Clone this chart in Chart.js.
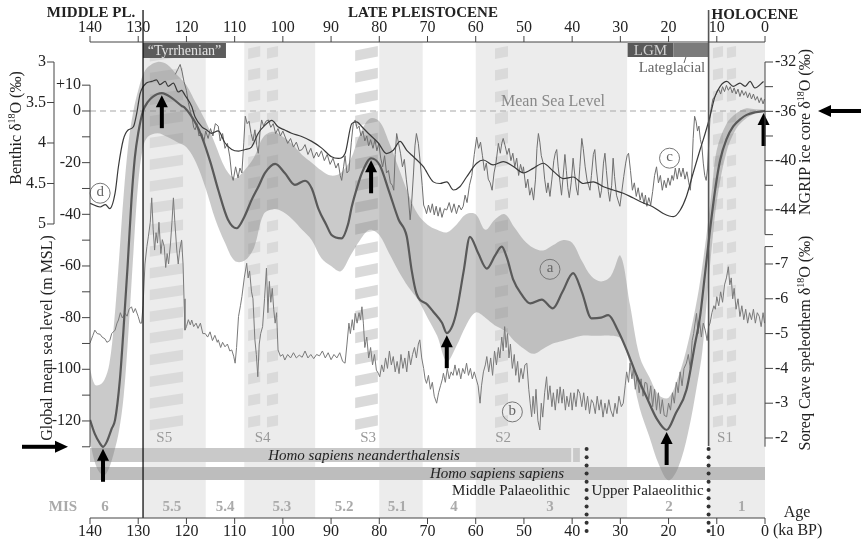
<!DOCTYPE html>
<html><head><meta charset="utf-8">
<script src="https://cdn.jsdelivr.net/npm/chart.js@4.4.0/dist/chart.umd.min.js"></script>
<style>html,body{margin:0;padding:0;background:#fff}canvas{display:block}</style>
</head><body>
<canvas id="c" width="861" height="541"></canvas>
<script>
// ---------------- DATA ----------------
const ageTicks = [140,130,120,110,100,90,80,70,60,50,40,30,20,10,0];
const seaTicksLabelled = [10,0,-20,-40,-60,-80,-100,-120];
const seaTicksMinor = [10,0,-10,-20,-30,-40,-50,-60,-70,-80,-90,-100,-110,-120,-130];
const benthicTicks = [3,3.5,4,4.5,5];
const ngripTicksLabelled = [-32,-36,-40,-44];
const ngripTicksMinor = [-32,-34,-36,-38,-40,-42,-44,-46];
const soreqTicks = [-7,-6,-5,-4,-3,-2];

// sea level uncertainty band: [age, upper, lower]
const seaBand = [[140,-100,-128],[139,-106,-136],[138,-106,-140],[137,-104,-141],[136,-98,-138],[135,-82,-132],[134,-58,-124],[133,-32,-110],[132,-12,-85],[131,0,-55],[130,8,-28],[129,14,-14],[128,17,-10],[126,19,-8.6],[124,18,-10],[122,14,-12],[120,10,-14],[118,3,-20],[116,-4,-30],[114,-13,-42],[112,-22,-51],[110,-26,-58],[108,-23,-58],[106,-18,-53],[104,-10,-40],[102,-8,-38],[100,-10,-39],[98,-13,-42],[96,-17,-46],[94,-20,-50],[92,-23,-57],[90,-25,-60],[88,-24,-62],[86,-19,-56],[84,-9,-50],[82,-3,-46],[80,-4,-48],[78,-12,-55],[76,-22,-62],[74,-32,-68],[72,-40,-73],[70,-44,-80],[68,-46,-87],[66,-47,-97],[64,-44,-91],[62,-40,-83],[60,-40,-78],[58,-46,-80],[56,-42,-83],[54,-40,-85],[52,-45,-89],[50,-50,-92],[48,-53,-94],[46,-54,-92],[44,-52,-90],[42,-50,-89],[40,-51,-88],[38,-58,-87],[36,-64,-87],[34,-66,-87],[32,-64,-87],[30,-56,-88],[28,-75,-98],[26,-95,-115],[24,-103,-126],[22,-110,-137],[20,-111,-143],[18,-103,-138],[16,-90,-125],[14,-72,-105],[13,-60,-93],[12,-46,-72],[11,-30,-52],[10,-15,-35],[8,-5,-16],[6,-1,-7],[4,1,-3],[2,0.7,-1],[0,0.5,-0.3]];

// (a) global mean sea level: [age ka, m MSL]
const seaLevel = [[140,-119.6],[139,-125],[138,-128.5],[137.3,-130],[136.5,-128],[135.5,-123],[134.8,-119.6],[133.8,-104],[133.1,-86],[132.2,-60],[131.4,-34.5],[130.7,-18],[130,-8.6],[129,0],[128,3.5],[127,5.5],[125.1,6.9],[123,5],[121,2],[120.3,1.2],[118,-5],[116.8,-10],[115,-20],[113.4,-30.6],[111.4,-42],[109.6,-45.4],[108,-41],[106.5,-34.5],[105,-29],[103.7,-24],[101.6,-20.5],[99.6,-24],[97.5,-28.6],[95.4,-27],[94,-30],[92.6,-38],[91,-44],[89.9,-48],[87.8,-49.3],[86.5,-44],[85.7,-37],[84.5,-29],[83.6,-24],[81.7,-18.3],[79.9,-21],[78,-31],[76,-42],[74.3,-48.6],[73.3,-61.5],[72.3,-70.6],[70,-75],[68.8,-77.7],[67,-82],[66,-86],[64.8,-83],[63.9,-77],[62.5,-62],[61.2,-48.7],[59.5,-55],[57.7,-61],[56,-56],[54.6,-52.5],[53.5,-57],[52.2,-65.4],[50.5,-71],[48.7,-74.5],[46.3,-73],[44,-76.4],[42,-70],[39.8,-62.8],[38,-70],[36,-80.3],[34,-80],[32.5,-79],[30.5,-85],[28.7,-92.5],[26.5,-103],[24.6,-110.6],[22.5,-119],[20.4,-123.5],[18.5,-117],[16.3,-108],[14.5,-90],[13.5,-80],[12.5,-64],[11.4,-46],[10.3,-30],[9.3,-19],[8,-11],[6.6,-6],[5,-3],[3.8,-1.5],[2,-0.5],[0,0]];

// (d) benthic d18O
const benthic = [[140,4.745],[137.9,4.79],[136.8,4.76],[135.9,4.81],[134.8,4.62],[134.1,4.29],[133.1,3.96],[132.1,3.84],[131,3.80],[130.3,3.63],[129.6,3.39],[128.3,3.26],[127.2,3.24],[126.2,3.22],[125.5,3.28],[124.4,3.24],[123.8,3.30],[122.7,3.26],[121.7,3.37],[121,3.35],[120.3,3.41],[118.9,3.55],[118.2,3.68],[116.8,3.80],[115.8,3.84],[114.8,3.88],[113.4,3.85],[112,4.0],[110.6,4.08],[109.2,4.1],[107.8,4.08],[106.5,4.05],[105.1,3.88],[103.7,3.78],[102.3,3.72],[101,3.8],[99.6,3.84],[98.2,3.88],[96.1,3.92],[94,3.98],[92,4.06],[89.9,4.17],[88.5,4.19],[87.1,4.13],[85.7,3.76],[84.7,3.74],[83.6,3.80],[82.3,3.88],[80.2,4.0],[78.5,4.13],[77.1,4.09],[75.7,3.98],[74.3,4.09],[72.9,4.17],[70.9,4.29],[68.8,4.48],[67.4,4.50],[66,4.48],[64.6,4.58],[63.3,4.54],[61.9,4.42],[59.8,4.25],[58.4,4.21],[56.4,4.27],[54.3,4.23],[52.2,4.29],[50.1,4.37],[48,4.31],[46,4.25],[43.9,4.35],[41.8,4.44],[39.8,4.42],[37.7,4.50],[35.6,4.48],[33.5,4.54],[31.5,4.58],[29.4,4.62],[27.3,4.68],[25.2,4.74],[23.2,4.79],[21.1,4.87],[19,4.91],[17.6,4.83],[16.3,4.66],[14.9,4.37],[13.5,4.09],[12.4,3.88],[11.4,3.67],[10.4,3.43],[9.3,3.30],[7.9,3.24],[6.6,3.30],[5.2,3.26],[4.1,3.30],[3.1,3.24],[2.1,3.32],[0.3,3.24]];

// (c) NGRIP ice core d18O
const ngrip = [[122.3,-33.0],[121.8,-32.6],[121.3,-32.2],[120.9,-32.8],[120.5,-33.6],[120.0,-34.3],[119.6,-35.3],[119.2,-36.0],[118.9,-36.4],[118.5,-37.3],[118.2,-37.5],[117.8,-37.0],[117.4,-38.0],[116.8,-37.8],[116.4,-38.5],[116.0,-37.6],[115.5,-38.2],[115.0,-37.4],[114.5,-38.0],[114.0,-37.0],[113.4,-37.2],[113.0,-38.4],[112.5,-37.8],[112.0,-39.0],[111.5,-38.6],[111.0,-39.7],[110.6,-41.2],[110.3,-41.6],[109.8,-40.5],[109.3,-41.4],[108.9,-40.6],[108.5,-41.0],[108.1,-38.5],[107.8,-36.4],[107.4,-37.0],[107.0,-36.8],[106.6,-37.8],[106.2,-38.4],[105.8,-37.5],[105.4,-38.8],[105.1,-39.4],[104.7,-37.5],[104.4,-36.7],[104.0,-37.2],[103.5,-36.8],[103.0,-36.7],[102.5,-37.3],[102.0,-37.0],[101.5,-37.8],[101.0,-37.4],[100.5,-38.0],[100.0,-37.6],[99.6,-38.0],[99.0,-38.6],[98.4,-38.2],[97.8,-38.9],[97.2,-38.5],[96.6,-39.2],[96.0,-39.1],[95.4,-38.7],[94.8,-39.5],[94.2,-39.0],[93.6,-39.8],[93.0,-39.3],[92.6,-39.7],[92.0,-39.2],[91.4,-40.0],[90.8,-39.5],[90.2,-40.3],[89.6,-39.8],[89.0,-40.6],[88.5,-40.2],[88.1,-41.2],[87.8,-41.6],[87.4,-40.5],[87.1,-39.6],[86.7,-41.0],[86.3,-40.8],[85.8,-38.5],[85.4,-37.0],[85.0,-36.7],[84.6,-37.4],[84.2,-37.2],[83.8,-38.0],[83.4,-37.6],[83.0,-38.4],[82.6,-38.0],[82.2,-38.8],[81.8,-38.3],[81.3,-39.0],[80.9,-38.3],[80.5,-39.2],[80.1,-38.6],[79.7,-39.8],[79.3,-40.5],[78.9,-39.6],[78.5,-41.0],[78.1,-40.8],[77.7,-41.8],[77.3,-42.0],[77.0,-42.4],[76.7,-39.5],[76.4,-37.8],[76.0,-38.6],[75.6,-39.4],[75.2,-40.5],[74.8,-39.9],[74.4,-41.5],[74.0,-42.8],[73.6,-44.8],[73.3,-43.5],[72.9,-41.0],[72.6,-38.8],[72.3,-37.8],[71.9,-38.6],[71.5,-40.2],[71.1,-42.0],[70.8,-43.6],[70.4,-44.0],[70.2,-44.3],[69.8,-43.6],[69.4,-44.2],[69.0,-43.5],[68.6,-44.4],[68.2,-43.7],[67.8,-44.5],[67.4,-43.8],[67.0,-44.6],[66.5,-43.9],[66.0,-44.0],[65.5,-43.4],[65.0,-44.2],[64.5,-43.5],[64.0,-44.3],[63.5,-43.6],[63.0,-44.0],[62.6,-43.7],[62.2,-42.8],[61.8,-43.4],[61.3,-42.0],[60.8,-41.2],[60.3,-39.5],[59.8,-38.1],[59.4,-39.0],[59.0,-38.5],[58.6,-39.6],[58.2,-40.8],[57.8,-40.2],[57.4,-41.5],[57.0,-41.8],[56.6,-42.4],[56.2,-41.0],[55.8,-40.2],[55.3,-38.6],[54.9,-39.4],[54.6,-38.6],[54.3,-38.2],[53.9,-38.8],[53.5,-39.5],[53.1,-39.0],[52.7,-40.0],[52.3,-39.4],[51.9,-40.5],[51.5,-39.8],[51.1,-41.2],[50.7,-40.3],[50.3,-41.0],[50.1,-40.5],[49.6,-42.2],[49.2,-41.5],[48.8,-42.8],[48.4,-42.2],[48.0,-43.2],[47.6,-41.5],[47.3,-39.0],[47.0,-37.8],[46.7,-38.5],[46.4,-39.6],[46.0,-40.2],[45.7,-41.5],[45.3,-42.6],[45.0,-41.8],[44.6,-42.9],[44.2,-41.5],[43.8,-40.0],[43.5,-39.4],[43.2,-39.1],[42.9,-40.5],[42.5,-41.8],[42.2,-42.8],[41.9,-41.4],[41.5,-39.5],[41.2,-40.8],[40.9,-42.2],[40.6,-43.0],[40.2,-41.8],[39.8,-39.8],[39.5,-41.0],[39.1,-42.3],[38.8,-42.8],[38.4,-40.5],[38.0,-38.2],[37.7,-39.0],[37.3,-40.5],[36.9,-41.6],[36.6,-42.0],[36.3,-42.4],[36.0,-41.2],[35.6,-39.5],[35.3,-39.1],[35.0,-40.6],[34.6,-42.0],[34.2,-43.0],[33.9,-42.4],[33.5,-40.2],[33.2,-39.4],[32.9,-40.8],[32.5,-42.5],[32.2,-43.3],[31.8,-42.0],[31.5,-39.8],[31.2,-41.3],[30.8,-42.8],[30.5,-43.2],[30.1,-43.7],[29.7,-42.5],[29.3,-41.3],[28.9,-40.2],[28.6,-39.6],[28.3,-39.4],[27.9,-40.8],[27.5,-42.4],[27.1,-41.8],[26.7,-42.9],[26.3,-42.2],[25.9,-43.2],[25.5,-42.6],[25.1,-43.5],[24.8,-42.8],[24.5,-43.7],[24.1,-43.0],[23.7,-43.6],[23.3,-42.5],[22.9,-41.2],[22.5,-40.5],[22.1,-41.8],[21.7,-41.2],[21.3,-42.4],[20.9,-41.6],[20.5,-42.2],[20.1,-41.4],[19.7,-42.0],[19.3,-41.2],[19.0,-41.6],[18.6,-40.6],[18.2,-41.5],[17.8,-40.6],[17.4,-41.3],[17.0,-40.6],[16.6,-41.5],[16.2,-40.9],[15.8,-41.8],[15.5,-42.4],[15.2,-41.0],[14.9,-38.2],[14.6,-36.4],[14.3,-36.8],[14.0,-37.6],[13.7,-37.2],[13.4,-38.3],[13.1,-38.8],[12.8,-40.2],[12.5,-41.2],[12.2,-41.6],[11.9,-40.6],[11.6,-38.0],[11.4,-36.4],[11.1,-35.6],[10.8,-35.0],[10.4,-34.8],[10.0,-34.5],[9.6,-34.2],[9.2,-34.6],[8.8,-34.0],[8.4,-34.4],[8.0,-33.9],[7.6,-34.3],[7.2,-34.0],[6.8,-34.5],[6.4,-34.1],[6.0,-34.6],[5.6,-34.2],[5.2,-34.8],[4.8,-34.3],[4.4,-34.7],[4.0,-34.4],[3.6,-34.9],[3.2,-34.5],[2.8,-35.0],[2.4,-34.6],[2.0,-35.1],[1.6,-34.8],[1.2,-35.3],[0.8,-34.9],[0.4,-35.4],[0.1,-35.0]];

// (b) Soreq Cave speleothem d18O
const soreq = [[140,-4.73],[139.4,-4.95],[139,-5.1],[138.5,-5.0],[137.9,-4.98],[137.5,-4.9],[136.9,-4.85],[136.5,-4.75],[135.9,-4.8],[135.5,-5.0],[134.8,-5.1],[134.4,-5.3],[134.1,-5.39],[133.7,-5.6],[133.3,-5.45],[132.7,-5.58],[132.3,-5.5],[131.9,-5.7],[131.4,-5.77],[131.0,-5.6],[130.6,-5.72],[130.0,-5.49],[129.6,-5.3],[129.3,-5.3],[129.0,-5.8],[128.6,-7.0],[128.2,-7.5],[127.9,-7.78],[127.5,-8.2],[127.2,-8.9],[126.9,-8.0],[126.6,-7.4],[126.3,-7.9],[126.0,-7.6],[125.7,-8.2],[125.3,-7.3],[125.0,-7.7],[124.6,-7.5],[124.3,-6.9],[124.0,-7.3],[123.7,-7.0],[123.3,-7.6],[123.0,-8.2],[122.7,-8.9],[122.4,-8.2],[122.0,-7.4],[121.7,-7.0],[121.4,-7.4],[121.0,-7.69],[120.7,-7.0],[120.5,-6.0],[120.3,-5.1],[120.0,-5.2],[119.6,-5.4],[119.2,-5.25],[118.9,-5.39],[118.5,-5.2],[118.0,-5.3],[117.6,-5.15],[117.1,-5.3],[116.6,-5.0],[116.1,-5.0],[115.6,-4.9],[115.1,-5.05],[114.6,-4.8],[114.1,-4.95],[113.6,-4.75],[113.4,-4.82],[112.9,-4.6],[112.5,-4.75],[112.0,-4.62],[111.5,-4.7],[111.0,-4.5],[110.6,-4.53],[110.2,-4.35],[109.9,-4.15],[109.6,-4.6],[109.2,-5.49],[108.8,-5.8],[108.5,-6.06],[108.0,-6.6],[107.5,-7.02],[107.2,-6.6],[106.9,-6.8],[106.5,-6.2],[106.2,-6.0],[105.8,-4.82],[105.5,-4.4],[105.2,-3.76],[104.9,-4.7],[104.6,-5.0],[104.2,-5.2],[103.8,-6.0],[103.4,-6.88],[103.1,-5.6],[102.8,-6.5],[102.5,-5.9],[102.2,-6.3],[101.9,-5.7],[101.6,-5.3],[101.3,-5.6],[101.0,-4.53],[100.5,-4.35],[100.0,-4.4],[99.6,-4.24],[99.0,-4.4],[98.4,-4.3],[97.8,-4.45],[97.2,-4.3],[96.6,-4.38],[96.0,-4.32],[95.4,-4.5],[94.8,-4.3],[94.2,-4.4],[93.6,-4.28],[93.0,-4.4],[92.4,-4.36],[91.8,-4.5],[91.2,-4.3],[90.6,-4.45],[90.0,-4.25],[89.4,-4.4],[88.8,-4.3],[88.2,-4.45],[87.6,-4.2],[87.1,-4.15],[86.7,-4.7],[86.3,-5.3],[86.0,-5.0],[85.6,-5.4],[85.3,-5.1],[85.0,-5.58],[84.6,-5.3],[84.2,-5.6],[83.9,-5.4],[83.6,-5.77],[83.3,-5.3],[83.0,-4.6],[82.6,-4.9],[82.2,-4.3],[81.8,-4.6],[81.4,-4.1],[81.0,-4.4],[80.6,-3.95],[80.2,-3.86],[79.9,-3.76],[79.5,-4.1],[79.1,-3.9],[78.7,-4.3],[78.3,-4.0],[77.9,-4.5],[77.5,-4.1],[77.1,-4.34],[76.7,-3.9],[76.3,-4.2],[75.9,-3.85],[75.5,-4.4],[75.1,-4.0],[74.7,-4.3],[74.3,-3.9],[73.9,-4.5],[73.5,-4.1],[73.1,-4.4],[72.7,-4.6],[72.3,-4.3],[71.9,-4.7],[71.6,-4.82],[71.2,-4.3],[70.8,-4.0],[70.5,-3.7],[70.2,-3.57],[69.8,-3.8],[69.4,-3.4],[69.0,-3.6],[68.6,-3.2],[68.1,-3.0],[67.7,-3.3],[67.3,-3.5],[66.9,-3.7],[66.7,-3.86],[66.3,-3.6],[65.9,-4.0],[65.5,-3.7],[65.1,-3.9],[64.7,-3.8],[64.3,-4.1],[63.9,-3.8],[63.5,-4.0],[63.1,-3.7],[62.7,-4.0],[62.3,-3.85],[61.9,-4.15],[61.5,-3.8],[61.1,-4.0],[60.7,-3.7],[60.3,-3.9],[59.9,-3.7],[59.5,-3.5],[59.1,-3.0],[58.8,-3.5],[58.4,-3.9],[58.0,-4.1],[57.7,-4.34],[57.3,-3.9],[56.9,-4.3],[56.5,-3.8],[56.1,-4.5],[55.7,-4.1],[55.3,-4.6],[55.0,-4.3],[54.6,-4.9],[54.3,-4.5],[54.0,-5.2],[53.7,-4.6],[53.4,-5.0],[53.1,-4.3],[52.8,-4.7],[52.4,-4.0],[52.0,-4.4],[51.7,-3.8],[51.3,-4.2],[51.0,-3.6],[50.6,-4.0],[50.2,-3.7],[49.8,-4.1],[49.4,-4.15],[49.0,-3.4],[48.7,-3.0],[48.4,-2.61],[48.1,-3.2],[47.8,-2.7],[47.5,-3.4],[47.1,-2.5],[46.7,-2.23],[46.4,-3.0],[46.1,-2.6],[45.7,-3.3],[45.3,-3.76],[45.0,-3.1],[44.6,-3.5],[44.2,-2.9],[43.9,-3.3],[43.5,-2.8],[43.1,-3.4],[42.8,-3.0],[42.5,-3.47],[42.1,-3.0],[41.8,-3.4],[41.4,-2.8],[41.1,-3.2],[40.7,-2.9],[40.3,-3.3],[40.0,-2.8],[39.6,-3.3],[39.2,-2.9],[38.8,-3.4],[38.4,-3.28],[38.0,-2.9],[37.6,-3.3],[37.2,-2.8],[36.8,-3.2],[36.4,-2.7],[36.0,-3.1],[35.6,-3.0],[35.2,-2.7],[34.8,-3.2],[34.4,-2.8],[34.0,-3.1],[33.6,-2.6],[33.2,-3.0],[32.8,-2.7],[32.4,-3.1],[32.0,-2.8],[31.5,-2.61],[31.1,-3.0],[30.7,-2.7],[30.3,-3.2],[29.8,-2.9],[29.4,-3.0],[29.0,-3.5],[28.7,-3.9],[28.3,-3.6],[28.0,-4.15],[27.6,-3.7],[27.3,-4.0],[26.9,-3.4],[26.5,-3.8],[26.1,-3.3],[25.7,-3.7],[25.3,-3.2],[24.9,-3.6],[24.5,-3.57],[24.1,-3.1],[23.7,-3.5],[23.3,-2.9],[22.9,-3.4],[22.5,-2.8],[22.1,-3.3],[21.7,-2.7],[21.3,-3.1],[20.9,-2.65],[20.4,-2.61],[20.0,-3.0],[19.6,-2.8],[19.2,-3.3],[18.8,-3.0],[18.4,-3.6],[18.0,-3.3],[17.6,-3.9],[17.2,-3.5],[16.8,-4.0],[16.3,-4.15],[15.9,-4.4],[15.5,-4.0],[15.1,-4.8],[14.8,-5.0],[14.5,-5.3],[14.2,-5.58],[13.9,-5.0],[13.6,-5.4],[13.2,-4.9],[12.8,-5.3],[12.4,-5.1],[12.0,-4.8],[11.7,-5.2],[11.4,-5.3],[11.0,-5.6],[10.6,-5.8],[10.3,-5.7],[10.0,-6.06],[9.6,-5.8],[9.2,-6.2],[8.8,-5.9],[8.4,-6.4],[8.0,-6.6],[7.6,-6.92],[7.3,-6.4],[7.0,-6.6],[6.7,-6.0],[6.4,-6.3],[6.0,-5.7],[5.6,-6.0],[5.2,-5.49],[4.8,-5.8],[4.4,-5.4],[4.0,-5.7],[3.6,-5.3],[3.2,-5.6],[2.8,-5.4],[2.4,-5.7],[2.0,-5.3],[1.6,-5.6],[1.2,-5.5],[0.8,-5.2],[0.4,-5.6],[0.1,-5.3]];

// Marine isotope stage bands (warm stages shaded) and labels
const misBands = [[129,116],[108,93.3],[80,71],[60,28.6],[11.7,0]];
const misNames = ['6','5.5','5.4','5.3','5.2','5.1','4','3','2','1'];
const misLabelAges = [136.9,123,112,100.2,87.3,76.3,64.5,44.6,19.9,4.8];
// sapropel intervals
const sapropels = [[127.6,120.7],[107.2,104.7],[103.3,101.0],[85,80.3],[56,53.3],[10.8,8.7],[7.9,6.0]];
const sapropelNames = ['S5','S4','S3','S2','S1'];
const sapropelLabelAges = [124.6,104.2,82.3,54.3,8.3];
// arrows to key sea levels
const arrowAges = [137.3,125.1,81.7,66,20.4,0.3];
const arrowLevels = [-130,6.9,-18.3,-86,-123.5,0];
// period boundaries / boxes
const middleLateBoundary = 129;
const holoceneBoundary = 11.7;
const upperPalaeoBoundary = 37;
const tyrrhenian = [129,111.8];
const lgm = [28.5,19];
const lateglacial = [19,11.7];
const neanderthalensis = [[140,40.2],[39.8,38.4]];
const sapiens = [140,0];

// ---------------- CHART ----------------
const F = '"Liberation Serif","DejaVu Serif","Times New Roman",serif';
const fnt = (s,w='normal',st='normal') => `${st} ${w} ${s}px ${F}`;
const P = arr => arr.map(p => ({x:p[0], y:p[1]}));

function text(ctx, s, x, y, o={}) {
  ctx.save();
  ctx.font = fnt(o.size||15, o.weight||'normal', o.style||'normal');
  ctx.fillStyle = o.color||'#222';
  ctx.textAlign = o.align||'center';
  ctx.textBaseline = o.base||'middle';
  ctx.fillText(s, x, y);
  ctx.restore();
}
function rich(ctx, parts, x, y, color) {
  ctx.save(); ctx.fillStyle = color||'#222'; ctx.textBaseline='alphabetic'; ctx.textAlign='left';
  let w = 0;
  parts.forEach(p => { ctx.font = fnt(p[1]); w += ctx.measureText(p[0]).width; });
  let cx = x - w/2;
  parts.forEach(p => { ctx.font = fnt(p[1]); ctx.fillText(p[0], cx, y + (p[2]||0)); cx += ctx.measureText(p[0]).width; });
  ctx.restore();
}
function rotTitle(ctx, parts, x, y) {
  ctx.save(); ctx.translate(x, y); ctx.rotate(-Math.PI/2); rich(ctx, parts, 0, 5, '#222'); ctx.restore();
}
function arrowUp(ctx, x, tip, len) {
  ctx.save(); ctx.fillStyle='#000';
  ctx.fillRect(x-2, tip+10, 4, len-10);
  ctx.beginPath(); ctx.moveTo(x, tip); ctx.lineTo(x-6, tip+12); ctx.lineTo(x+6, tip+12); ctx.closePath(); ctx.fill();
  ctx.restore();
}
function arrowH(ctx, tail, tip, y) {
  const d = Math.sign(tip - tail);
  ctx.save(); ctx.fillStyle='#000';
  ctx.fillRect(Math.min(tail, tip - d*12), y-2, Math.abs(tip - d*12 - tail), 4);
  ctx.beginPath(); ctx.moveTo(tip, y); ctx.lineTo(tip - d*13, y-6); ctx.lineTo(tip - d*13, y+6); ctx.closePath(); ctx.fill();
  ctx.restore();
}

const decor = {
  id: 'decor',
  beforeDraw(chart) {
    const ctx = chart.ctx; ctx.save(); ctx.fillStyle='#fff'; ctx.fillRect(0,0,chart.width,chart.height); ctx.restore();
  },
  beforeDatasetsDraw(chart) {
    const ctx = chart.ctx, a = chart.chartArea, X = chart.scales.x, S = chart.scales.ySea;
    ctx.save();
    // MIS bands
    ctx.fillStyle = '#ececec';
    misBands.forEach(b => { const x1 = X.getPixelForValue(b[0]), x2 = X.getPixelForValue(b[1]); ctx.fillRect(x1, a.top, x2-x1, a.bottom-a.top); });
    // sapropel stripes
    ctx.fillStyle = '#dadada';
    const yEnd = S.getPixelForValue(-124);
    sapropels.forEach(s => {
      const x1 = X.getPixelForValue(s[0]), x2 = X.getPixelForValue(s[1]);
      const sl = Math.min(5, (x2-x1)*0.2);
      for (let y = a.top + 4; y < yEnd; y += 21.7) {
        ctx.beginPath(); ctx.moveTo(x1, y+sl); ctx.lineTo(x2, y); ctx.lineTo(x2, y+10.5); ctx.lineTo(x1, y+10.5+sl); ctx.closePath(); ctx.fill();
      }
    });
    // hominin bars
    ctx.fillStyle = '#c9c9c9';
    neanderthalensis.forEach(r => { const x1 = X.getPixelForValue(r[0]), x2 = X.getPixelForValue(r[1]); ctx.fillRect(x1, 448, x2-x1, 14); });
    ctx.fillStyle = '#bdbdbd';
    { const x1 = X.getPixelForValue(sapiens[0]), x2 = X.getPixelForValue(sapiens[1]); ctx.fillRect(x1, 467, x2-x1, 13); }
    // Mean sea level dashed
    const y0 = S.getPixelForValue(0);
    ctx.strokeStyle = '#a8a8a8'; ctx.lineWidth = 1.2; ctx.setLineDash([6,4]);
    ctx.beginPath(); ctx.moveTo(a.left, y0); ctx.lineTo(a.right, y0); ctx.stroke();
    ctx.setLineDash([]);
    ctx.restore();
  },
  afterDatasetsDraw(chart) {
    const ctx = chart.ctx, a = chart.chartArea, X = chart.scales.x, S = chart.scales.ySea,
          B = chart.scales.yBen, N = chart.scales.yNg, R = chart.scales.ySor;
    const px = v => X.getPixelForValue(v);
    ctx.save();
    // Boxes at top
    ctx.fillStyle = '#5c5c5c'; ctx.fillRect(px(tyrrhenian[0]), 43, px(tyrrhenian[1])-px(tyrrhenian[0]), 15);
    text(ctx, '\u201CTyrrhenian\u201D', (px(tyrrhenian[0])+px(tyrrhenian[1]))/2, 51, {color:'#e2e2e2', size:14});
    ctx.fillStyle = '#595959'; ctx.fillRect(px(lgm[0]), 43, px(lgm[1])-px(lgm[0]), 14);
    ctx.fillStyle = '#7b7b7b'; ctx.fillRect(px(lateglacial[0]), 43, px(lateglacial[1])-px(lateglacial[0]), 14);
    text(ctx, 'LGM', (px(lgm[0])+px(lgm[1]))/2, 51, {color:'#cfcfcf', size:15});
    text(ctx, 'Lateglacial', px(19.3), 68, {color:'#666', size:15});
    ctx.strokeStyle = '#666'; ctx.lineWidth = 1;
    ctx.beginPath(); ctx.moveTo(px(16.4), 57); ctx.lineTo(px(16.8), 63); ctx.stroke();
    text(ctx, 'Mean Sea Level', 553, S.getPixelForValue(0) - 9, {color:'#888', size:16});

    // vertical boundaries
    ctx.strokeStyle = '#111'; ctx.lineWidth = 1.3;
    ctx.beginPath(); ctx.moveTo(px(middleLateBoundary), 10); ctx.lineTo(px(middleLateBoundary), a.bottom); ctx.stroke();
    ctx.strokeStyle = '#555'; ctx.lineWidth = 1.6;
    ctx.beginPath(); ctx.moveTo(px(holoceneBoundary), 10); ctx.lineTo(px(holoceneBoundary), 446); ctx.stroke();
    ctx.fillStyle = '#333';
    [holoceneBoundary, upperPalaeoBoundary].forEach(ag => {
      for (let y = 449; y <= 536; y += 8.2) { ctx.beginPath(); ctx.arc(px(ag), y, 2, 0, Math.PI*2); ctx.fill(); }
    });

    // hominin / industry labels
    text(ctx, 'Homo sapiens neanderthalensis', 364, 456, {style:'italic', size:15});
    text(ctx, 'Homo sapiens sapiens', 497, 474, {style:'italic', size:15});
    text(ctx, 'Middle Palaeolithic', 511, 491, {size:15});
    text(ctx, 'Upper Palaeolithic', px(upperPalaeoBoundary) + 5, 491, {size:15, align:'left'});

    // MIS labels
    text(ctx, 'MIS', 63, 507, {color:'#aaa', weight:'bold', size:15});
    misNames.forEach((m,i) => text(ctx, m, px(misLabelAges[i]), 507, {color:'#aaa', weight:'bold', size:15}));
    // sapropel labels
    sapropelNames.forEach((s,i) => text(ctx, s, px(sapropelLabelAges[i]), 438, {color:'#999', size:15}));

    // circled series labels
    const circ = (l, x, y) => {
      ctx.strokeStyle = '#777'; ctx.lineWidth = 1; ctx.beginPath(); ctx.arc(x, y, 10, 0, Math.PI*2); ctx.stroke();
      text(ctx, l, x, y - 1, {color:'#666', size:15});
    };
    circ('a', px(44.6), S.getPixelForValue(-61.3));
    circ('b', px(52.4), R.getPixelForValue(-2.75));
    circ('c', px(19.8), N.getPixelForValue(-39.8));
    circ('d', px(137.9), B.getPixelForValue(4.62));

    // arrows
    arrowAges.forEach((ag,i) => arrowUp(ctx, px(ag), S.getPixelForValue(arrowLevels[i]) + 2, 33));
    arrowH(ctx, 22, 68, S.getPixelForValue(-130));
    arrowH(ctx, 861, 818, S.getPixelForValue(0));

    // ----- axes -----
    ctx.strokeStyle = '#444'; ctx.lineWidth = 1;
    // top
    ctx.beginPath(); ctx.moveTo(a.left, a.top); ctx.lineTo(a.right, a.top); ctx.stroke();
    ageTicks.forEach(t => { const x = px(t); ctx.beginPath(); ctx.moveTo(x, a.top); ctx.lineTo(x, a.top-6); ctx.stroke(); text(ctx, String(t), x, 28, {size:16}); });
    // bottom
    ctx.beginPath(); ctx.moveTo(a.left, a.bottom); ctx.lineTo(a.right, a.bottom); ctx.stroke();
    ageTicks.forEach(t => { const x = px(t); ctx.beginPath(); ctx.moveTo(x, a.bottom); ctx.lineTo(x, a.bottom+6); ctx.stroke(); text(ctx, String(t), x, 532, {size:16}); });
    text(ctx, 'Age', 797, 513, {size:16});
    text(ctx, '(ka BP)', 773, 531, {size:16, align:'left'});
    // period headers
    text(ctx, 'MIDDLE PL.', 91, 13, {weight:'bold', size:15});
    text(ctx, 'LATE PLEISTOCENE', 423, 13, {weight:'bold', size:15});
    text(ctx, 'HOLOCENE', px(holoceneBoundary) + 3, 15, {weight:'bold', size:15, align:'left'});

    // benthic axis (x=54)
    const bx = 54;
    ctx.beginPath(); ctx.moveTo(bx, B.getPixelForValue(3)); ctx.lineTo(bx, B.getPixelForValue(5)); ctx.stroke();
    benthicTicks.forEach(t => { const y = B.getPixelForValue(t); ctx.beginPath(); ctx.moveTo(bx-7, y); ctx.lineTo(bx, y); ctx.stroke(); text(ctx, String(t), bx-8, y, {size:16, align:'right'}); });
    // sea level axis (x = a.left)
    const sx = a.left;
    ctx.beginPath(); ctx.moveTo(sx, S.getPixelForValue(10)); ctx.lineTo(sx, S.getPixelForValue(-130)); ctx.stroke();
    seaTicksMinor.forEach(t => { const y = S.getPixelForValue(t); ctx.beginPath(); ctx.moveTo(sx-8, y); ctx.lineTo(sx, y); ctx.stroke(); });
    seaTicksLabelled.forEach(t => text(ctx, t > 0 ? '+' + t : String(t), sx-9, S.getPixelForValue(t), {size:16, align:'right'}));
    // right NGRIP axis
    const rx = a.right;
    ctx.beginPath(); ctx.moveTo(rx, N.getPixelForValue(-32)); ctx.lineTo(rx, N.getPixelForValue(-46)); ctx.stroke();
    ngripTicksMinor.forEach(t => { const y = N.getPixelForValue(t); ctx.beginPath(); ctx.moveTo(rx, y); ctx.lineTo(rx+8, y); ctx.stroke(); });
    ngripTicksLabelled.forEach(t => text(ctx, String(t), rx+10, N.getPixelForValue(t), {size:16, align:'left'}));
    // right Soreq axis
    ctx.beginPath(); ctx.moveTo(rx, R.getPixelForValue(-7.5)); ctx.lineTo(rx, R.getPixelForValue(-1.75)); ctx.stroke();
    [-7.5].concat(soreqTicks).forEach(t => { const y = R.getPixelForValue(t); ctx.beginPath(); ctx.moveTo(rx, y); ctx.lineTo(rx+8, y); ctx.stroke(); });
    soreqTicks.forEach(t => text(ctx, String(t), rx+10, R.getPixelForValue(t), {size:16, align:'left'}));

    // axis titles
    rotTitle(ctx, [['Benthic \u03B4',16],['18',10,-6],['O (\u2030)',16]], 16, 128);
    rotTitle(ctx, [['Global mean sea level (m MSL)',16]], 47, 338);
    rotTitle(ctx, [['NGRIP ice core \u03B4',16],['18',10,-6],['O (\u2030)',16]], 805, 132);
    rotTitle(ctx, [['Soreq Cave speleothem \u03B4',16],['18',10,-6],['O (\u2030)',16]], 805, 343);
    ctx.restore();
  }
};

new Chart(document.getElementById('c'), {
  type: 'line',
  data: {
    datasets: [
      { label:'Sea level (a)', data: P(seaLevel), yAxisID:'ySea', borderColor:'#595959', borderWidth:2.2, pointRadius:0, cubicInterpolationMode:'monotone', fill:false, order:1 },
      { label:'Benthic (d)', data: P(benthic), yAxisID:'yBen', borderColor:'#3a3a3a', borderWidth:1.2, pointRadius:0, cubicInterpolationMode:'monotone', fill:false, order:2 },
      { label:'NGRIP (c)', data: P(ngrip), yAxisID:'yNg', borderColor:'#6f6f6f', borderWidth:1, pointRadius:0, tension:0, fill:false, order:3 },
      { label:'Soreq (b)', data: P(soreq), yAxisID:'ySor', borderColor:'#7a7a7a', borderWidth:1, pointRadius:0, tension:0, fill:false, order:4 },
      { label:'band upper', data: seaBand.map(b => ({x:b[0], y:b[1]})), yAxisID:'ySea', borderWidth:0, borderColor:'rgba(0,0,0,0)', pointRadius:0, tension:0.35, fill:'+1', backgroundColor:'rgba(128,128,128,0.42)', order:5 },
      { label:'band lower', data: seaBand.map(b => ({x:b[0], y:b[2]})), yAxisID:'ySea', borderWidth:0, borderColor:'rgba(0,0,0,0)', pointRadius:0, tension:0.35, fill:false, order:6 }
    ]
  },
  options: {
    responsive: false, animation: false, events: [],
    layout: { padding: { left: 90, right: 96, top: 42, bottom: 23 } },
    plugins: { legend: { display: false }, tooltip: { enabled: false } },
    scales: {
      x: { type:'linear', min:0, max:140, reverse:true, display:false },
      ySea: { type:'linear', min:-157.57, max:26.71, display:false },
      yBen: { type:'linear', min:2.753, max:8.630, reverse:true, display:false },
      yNg: { type:'linear', min:-68.98, max:-30.378, display:false },
      ySor: { type:'linear', min:-13.379, max:0.299, reverse:true, display:false }
    }
  },
  plugins: [decor]
});
</script>
</body></html>
